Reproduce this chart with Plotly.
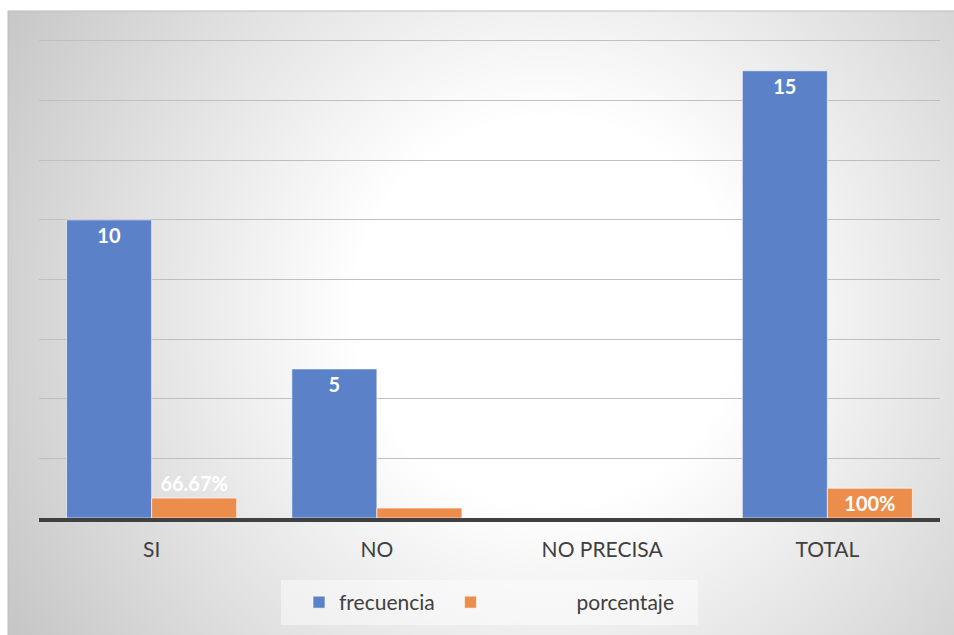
import base64
import plotly.graph_objects as go

categories = ["SI", "NO", "NO PRECISA", "TOTAL"]
frecuencia = [10, 5, 0, 15]
porcentaje = [0.6667, 0.3333, 0, 1.0]
frec_labels = ["10", "5", "", "15"]
pct_labels = ["66.67%", "", "", "100%"]
pct_textpos = ["outside", "none", "none", "inside"]
y_ticks = [0, 2, 4, 6, 8, 10, 12, 14, 16]

BLUE = "#5B82C9"
ORANGE = "#EC8D4C"
FONT = "Lato"
NB = "\u00a0"

svg = (
    "<svg xmlns='http://www.w3.org/2000/svg' width='946' height='624' viewBox='0 0 946 624' preserveAspectRatio='none'>"
    "<defs><radialGradient id='g' gradientUnits='userSpaceOnUse' cx='540' cy='300' r='640'>"
    "<stop offset='0' stop-color='#ffffff'/><stop offset='0.3' stop-color='#ffffff'/>"
    "<stop offset='1' stop-color='#c4c4c4'/></radialGradient></defs>"
    "<rect width='946' height='624' fill='url(#g)'/></svg>"
)
svg_uri = "data:image/svg+xml;base64," + base64.b64encode(svg.encode()).decode()

fig = go.Figure()
fig.add_trace(go.Bar(
    name="frecuencia" + NB * 2, x=categories, y=frecuencia,
    marker=dict(color=BLUE, line=dict(color="rgba(255,255,255,0.6)", width=1)),
    text=frec_labels, textposition="inside", insidetextanchor="end",
    textfont=dict(family=FONT, size=20, color="white", weight="bold"),
    constraintext="none",
))
fig.add_trace(go.Bar(
    name=NB * 16 + "porcentaje", x=categories, y=porcentaje,
    marker=dict(color=ORANGE, line=dict(color="rgba(255,255,255,0.6)", width=1)),
    text=pct_labels, textposition=pct_textpos, insidetextanchor="end",
    textfont=dict(family=FONT, size=20, color="white", weight="bold"),
    constraintext="none", cliponaxis=False,
))

W, H = 954, 635
L, R, T, B = 39, 14, 38, 117
pw, ph = W - L - R, H - T - B

def px(x):
    return (x - L) / pw

def py(y):
    return (H - B - y) / ph

x0, x1 = px(8), px(W)
ytop, ybot = py(11), py(H)

fig.update_layout(
    width=W, height=H,
    margin=dict(l=L, r=R, t=T, b=B),
    paper_bgcolor="white", plot_bgcolor="rgba(0,0,0,0)",
    barmode="group", bargap=0.245, bargroupgap=0,
    font=dict(family=FONT, size=21, color="#404040"),
    showlegend=True,
    legend=dict(
        orientation="h", x=px(299), xanchor="left",
        y=py(582), yanchor="top",
        bgcolor="rgba(0,0,0,0)", borderwidth=0,
        font=dict(family=FONT, size=21, color="#404040"),
        itemwidth=30,
    ),
    xaxis=dict(
        showline=True, linecolor="#404040", linewidth=4,
        ticks="outside", ticklen=10, tickcolor="rgba(0,0,0,0)",
        showgrid=False,
        tickfont=dict(family=FONT, size=21, color="#404040"),
    ),
    yaxis=dict(
        range=[0, 16.1], tickvals=y_ticks, showticklabels=False,
        showgrid=True, gridcolor="#bfbfbf", gridwidth=1,
        zeroline=False, showline=False, ticks="",
    ),
    images=[dict(
        source=svg_uri, xref="paper", yref="paper",
        x=x0, y=ytop, sizex=x1 - x0, sizey=ytop - ybot,
        xanchor="left", yanchor="top", sizing="stretch", layer="below",
    )],
    shapes=[
        dict(type="rect", xref="paper", yref="paper",
             x0=x0, x1=x1 + 0.01, y0=ybot - 0.01, y1=ytop,
             line=dict(color="#bdbdbd", width=1), fillcolor="rgba(0,0,0,0)", layer="below"),
        dict(type="rect", xref="paper", yref="paper",
             x0=px(281), x1=px(698), y0=py(625), y1=py(580),
             line=dict(width=0), fillcolor="rgba(255,255,255,0.45)", layer="below"),
    ],
)

fig.write_html("out.html", config={"displayModeBar": False},
               post_script="document.body.style.margin='0';")
